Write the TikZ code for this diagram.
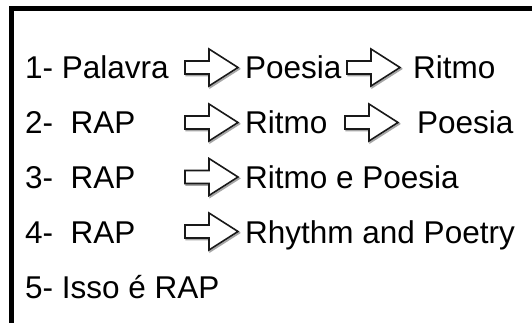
\documentclass[tikz,border=0pt]{standalone}
\usepackage{fontspec}
\setmainfont{Liberation Sans}
\begin{document}
\begin{tikzpicture}[x=1pt,y=-1pt,
  lbl/.style={anchor=base west,inner sep=0pt,font=\fontsize{31.5}{36}\selectfont},
  frame/.style={line width=5pt,line join=miter,black},
  hollowarrow/.pic={
    % soft offset outline under the arrow
    \draw[line width=1.8pt,line join=miter,black!35,shift={(1.2,1.4)}]
      (0,-6.5) -- (24,-6.5) -- (24,-18.5) -- (53,0) -- (24,18.5)
      -- (24,6.5) -- (0,6.5) -- cycle;
    \draw[line width=1.6pt,line join=miter,black!90,fill=white]
      (0,-6.5) -- (24,-6.5) -- (24,-18.5) -- (53,0) -- (24,18.5)
      -- (24,6.5) -- (0,6.5) -- cycle;
  }]
\useasboundingbox (0,0) rectangle (532,323);
\fill[white] (0,0) rectangle (532,323);
% open frame: left and top edges only
\begin{scope}
  \clip (0,0) rectangle (532,323);
  \draw[frame] (11.5,340) -- (11.5,8.5) -- (545,8.5);
\end{scope}

% row 1
\node[lbl] (r1a) at (25,79) {1- Palavra};
\pic at (185,67.5) {hollowarrow};
\node[lbl] (r1b) at (245,79) {Poesia};
\pic at (347,67.5) {hollowarrow};
\node[lbl] (r1c) at (413,79) {Ritmo};

% row 2
\node[lbl] (r2a) at (25,134) {2-\ \ RAP};
\pic at (185,122.5) {hollowarrow};
\node[lbl] (r2b) at (245,134) {Ritmo};
\pic at (345,122.5) {hollowarrow};
\node[lbl] (r2c) at (417,134) {Poesia};

% row 3
\node[lbl] (r3a) at (25,188.5) {3-\ \ RAP};
\pic at (185,177) {hollowarrow};
\node[lbl] (r3b) at (245,188.5) {Ritmo e Poesia};

% row 4
\node[lbl] (r4a) at (25,243) {4-\ \ RAP};
\pic at (185,231.5) {hollowarrow};
\node[lbl] (r4b) at (245,243) {Rhythm and Poetry};

% row 5
\node[lbl] (r5a) at (25,298) {5- Isso é RAP};
\end{tikzpicture}
\end{document}
